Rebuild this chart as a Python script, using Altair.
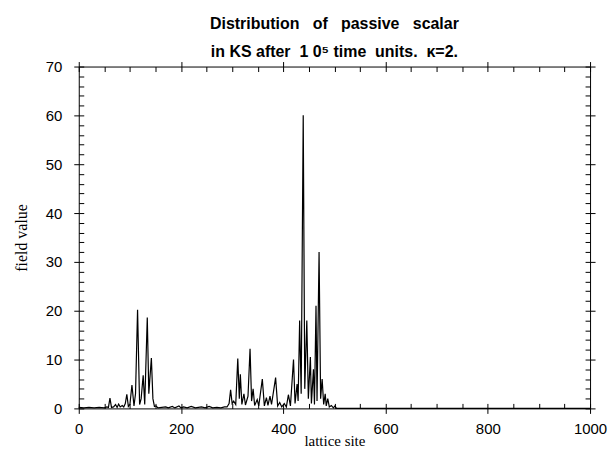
import altair as alt
import pandas as pd

# lattice site positions of line vertices
site = [0, 10, 20, 30, 40, 50, 55, 58, 61, 64, 68, 72, 75, 78, 81, 85, 88, 91, 94, 97,
        100, 104, 108, 111, 115, 119, 122, 126, 129, 134, 137, 139, 142, 145, 148, 151, 155,
        170, 175, 183, 188, 196, 200, 205, 212, 220, 228, 240, 247, 255, 262, 270, 278, 285,
        290, 294, 297, 300, 303, 307, 311, 314, 316, 319, 323, 326, 331, 335, 338, 341, 344,
        349, 352, 359, 363, 367, 370, 374, 377, 385, 389, 393, 397, 402, 406, 410, 414, 420,
        423, 427, 429, 432, 435, 439, 442, 446, 449, 453, 455, 459, 461, 464, 466, 470, 473,
        476, 479, 482, 484, 487, 490, 494, 498, 501, 504, 1000]
# field value at each vertex
value = [0.2, 0.1, 0.2, 0.1, 0.2, 0.1, 0.3, 0.2, 2.1, 0.2, 0.3, 0.8, 0.2, 0.9, 0.3, 0.6, 0.3, 1.0, 2.9, 0.4,
         0.8, 4.8, 0.5, 3.0, 20.2, 0.8, 2.0, 6.8, 0.8, 18.6, 3.0, 6.0, 10.3, 2.0, 0.4, 0.5, 0.1,
         0.3, 0.1, 0.4, 0.1, 0.5, 0.1, 0.3, 0.1, 0.4, 0.1, 0.3, 0.1, 0.4, 0.1, 0.2, 0.1, 0.3,
         0.3, 1.0, 3.8, 1.0, 1.5, 0.8, 10.2, 2.0, 7.0, 0.8, 3.0, 0.7, 2.5, 12.2, 1.5, 4.0, 0.6,
         1.8, 0.5, 6.0, 0.5, 2.2, 0.6, 2.5, 0.8, 6.3, 0.5, 1.2, 0.3, 1.0, 0.3, 2.8, 0.5, 10.0,
         1.0, 5.0, 1.5, 18.0, 3.0, 60.0, 4.0, 18.0, 2.0, 10.5, 1.0, 8.0, 0.8, 21.0, 1.5, 32.0, 2.0,
         6.0, 0.8, 3.0, 0.5, 2.0, 0.3, 0.6, 0.1, 0.5, 0.0, 0.0]

x_major = [0, 200, 400, 600, 800, 1000]
x_all = list(range(0, 1001, 50))
y_major = [0, 10, 20, 30, 40, 50, 60, 70]
y_all = list(range(0, 71, 2))

df = pd.DataFrame({"site": site, "value": value})

xs = alt.Scale(domain=[0, 1000], nice=False)
ys = alt.Scale(domain=[0, 70], nice=False)

lab = dict(labelFont="Liberation Sans", labelFontSize=15, labelColor="black",
           tickColor="black", domainColor="black", tickWidth=1, domainWidth=1,
           labelFlush=False, labelOverlap=False)

base = alt.Chart(df)

main = base.mark_line(color="black", strokeWidth=1.2).encode(
    x=alt.X("site:Q", scale=xs, axis=alt.Axis(orient="bottom", values=x_major, tickSize=5,
                                            labelPadding=8, format="d", title="lattice site",
                                            titleFont="Liberation Serif", titleFontSize=15,
                                            titleFontWeight="normal", titleColor="black",
                                            titleY=25, titleBaseline="top",
                                            grid=False, **lab)),
    y=alt.Y("value:Q", scale=ys, axis=alt.Axis(orient="left", values=y_major, tickSize=5,
                                             labelPadding=12, title="field value",
                                             titleFont="Liberation Serif", titleFontSize=16,
                                             titleFontWeight="normal", titleColor="black",
                                             titlePadding=16, grid=False, **lab)),
)

inner1 = base.mark_line(opacity=0).encode(
    x=alt.X("site:Q", scale=xs, axis=alt.Axis(orient="bottom", values=x_all, tickSize=5, offset=-5,
                                            labels=False, domain=False, title=None, grid=False,
                                            tickColor="black")),
    y=alt.Y("value:Q", scale=ys, axis=alt.Axis(orient="left", values=y_all, tickSize=5, offset=-5,
                                             labels=False, domain=False, title=None, grid=False,
                                             tickColor="black")),
)

outer2 = base.mark_line(opacity=0).encode(
    x=alt.X("site:Q", scale=xs, axis=alt.Axis(orient="top", values=x_major, tickSize=5,
                                            labels=False, title=None, grid=False,
                                            tickColor="black", domainColor="black")),
    y=alt.Y("value:Q", scale=ys, axis=alt.Axis(orient="right", values=y_major, tickSize=5,
                                             labels=False, title=None, grid=False,
                                             tickColor="black", domainColor="black")),
)

inner2 = base.mark_line(opacity=0).encode(
    x=alt.X("site:Q", scale=xs, axis=alt.Axis(orient="top", values=x_all, tickSize=5, offset=-5,
                                            labels=False, domain=False, title=None, grid=False,
                                            tickColor="black")),
    y=alt.Y("value:Q", scale=ys, axis=alt.Axis(orient="right", values=y_all, tickSize=5, offset=-5,
                                             labels=False, domain=False, title=None, grid=False,
                                             tickColor="black")),
)

chart = alt.layer(main, inner1, outer2, inner2).resolve_axis(
    x="independent", y="independent"
).properties(
    width=513,
    height=343,
    autosize=alt.AutoSizeParams(type="none"),
    padding={"left": 71, "top": 58, "right": 18, "bottom": 40},
    title=alt.Title(
        ["Distribution\u00a0\u00a0\u00a0of\u00a0\u00a0\u00a0passive\u00a0\u00a0\u00a0scalar",
         "in KS after\u00a0\u00a01\u00a00\u2075 time\u00a0\u00a0units.\u00a0\u00a0\u03ba=2."],
        font="Liberation Sans", fontSize=16, fontWeight="bold", color="black",
        anchor="middle", lineHeight=28, offset=0,
    ),
).configure_view(stroke=None)

chart.save("out.html", embed_options={"renderer": "svg", "actions": False})
